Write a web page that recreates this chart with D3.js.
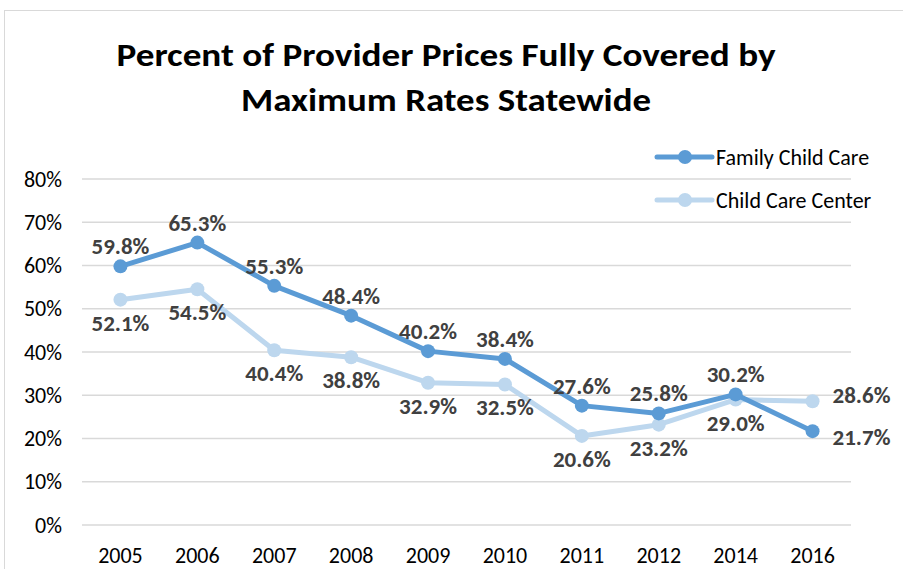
<!DOCTYPE html>
<html>
<head>
<meta charset="utf-8">
<script src="https://cdn.jsdelivr.net/npm/d3@7"></script>
<style>
  body { margin: 0; background: #fff; }
  svg { display: block; font-family: Carlito, Calibri, "Open Sans", sans-serif; }
</style>
</head>
<body>
<div id="container"></div>
<script>
const years = ["2005", "2006", "2007", "2008", "2009", "2010", "2011", "2012", "2014", "2016"];
const familyCare = [59.8, 65.3, 55.3, 48.4, 40.2, 38.4, 27.6, 25.8, 30.2, 21.7];
const centerCare = [52.1, 54.5, 40.4, 38.8, 32.9, 32.5, 20.6, 23.2, 29.0, 28.6];
const yTicks = [0, 10, 20, 30, 40, 50, 60, 70, 80];
const titleLines = ["Percent of Provider Prices Fully Covered by", "Maximum Rates Statewide"];

const width = 903, height = 569;
const svg = d3.select("#container").append("svg")
    .attr("width", width)
    .attr("height", height);

// chart frame
svg.append("rect")
    .attr("x", 4.5).attr("y", 10.5)
    .attr("width", 920).attr("height", 600)
    .attr("fill", "none")
    .attr("stroke", "#d9d9d9");

const x = d3.scaleBand().domain(years).range([82, 851]);
const y = d3.scaleLinear().domain([0, 80]).range([525, 179]);
const cx = d => x(d) + x.bandwidth() / 2;

// title (stretched to the widths seen in the original)
const titleWidths = [659, 410];
svg.append("g").selectAll("text")
    .data(titleLines)
    .join("text")
    .attr("x", 446)
    .attr("y", (d, i) => 66 + i * 45)
    .attr("text-anchor", "middle")
    .attr("textLength", (d, i) => titleWidths[i])
    .attr("lengthAdjust", "spacingAndGlyphs")
    .style("font-size", "33px")
    .style("font-weight", "bold")
    .style("fill", "#000")
    .text(d => d);

// gridlines
svg.append("g").selectAll("line")
    .data(yTicks)
    .join("line")
    .attr("x1", 82).attr("x2", 851)
    .attr("y1", d => y(d)).attr("y2", d => y(d))
    .attr("stroke", "#d9d9d9")
    .attr("stroke-width", 1.5);

// y labels
svg.append("g").selectAll("text")
    .data(yTicks)
    .join("text")
    .attr("x", 62)
    .attr("y", d => y(d))
    .attr("dy", "0.35em")
    .attr("text-anchor", "end")
    .style("font-size", "22px")
    .style("fill", "#000")
    .text(d => d + "%");

// x labels
svg.append("g").selectAll("text")
    .data(years)
    .join("text")
    .attr("x", d => cx(d))
    .attr("y", 563)
    .attr("text-anchor", "middle")
    .style("font-size", "22px")
    .style("fill", "#000")
    .text(d => d);

const series = [
  { name: "Family Child Care", values: familyCare, color: "#5b9bd5", pos: "above", lastShift: 6 },
  { name: "Child Care Center", values: centerCare, color: "#bdd7ee", pos: "below", lastShift: -6 }
];

const line = d3.line()
    .x((d, i) => cx(years[i]))
    .y(d => y(d));

// draw light series first so dark sits on top
series.slice().reverse().forEach(s => {
  svg.append("path")
      .attr("d", line(s.values))
      .attr("fill", "none")
      .attr("stroke", s.color)
      .attr("stroke-width", 5)
      .attr("stroke-linejoin", "round");
  svg.append("g").selectAll("circle")
      .data(s.values)
      .join("circle")
      .attr("cx", (d, i) => cx(years[i]))
      .attr("cy", d => y(d))
      .attr("r", 7)
      .attr("fill", s.color);
});

// data labels
const last = years.length - 1;
series.forEach(s => {
  svg.append("g").selectAll("text")
      .data(s.values)
      .join("text")
      .attr("x", (d, i) => i === last ? cx(years[i]) + 20 : cx(years[i]))
      .attr("y", (d, i) => {
        if (i === last) return y(d) + s.lastShift;
        return s.pos === "above" ? y(d) - 12 : y(d) + 31;
      })
      .attr("dy", (d, i) => i === last ? "0.35em" : null)
      .attr("text-anchor", (d, i) => i === last ? "start" : "middle")
      .style("font-size", "23px")
      .style("font-weight", "bold")
      .style("fill", "#404040")
      .text(d => d.toFixed(1) + "%");
});

// legend
const legend = svg.append("g");
series.forEach((s, i) => {
  const ly = 157 + i * 43;
  legend.append("line")
      .attr("x1", 657).attr("x2", 712)
      .attr("y1", ly).attr("y2", ly)
      .attr("stroke", s.color)
      .attr("stroke-width", 5)
      .attr("stroke-linecap", "round");
  legend.append("circle")
      .attr("cx", 685).attr("cy", ly).attr("r", 7)
      .attr("fill", s.color);
  legend.append("text")
      .attr("x", 716).attr("y", ly)
      .attr("dy", "0.35em")
      .style("font-size", "22px")
      .style("fill", "#000")
      .text(s.name);
});
</script>
</body>
</html>
